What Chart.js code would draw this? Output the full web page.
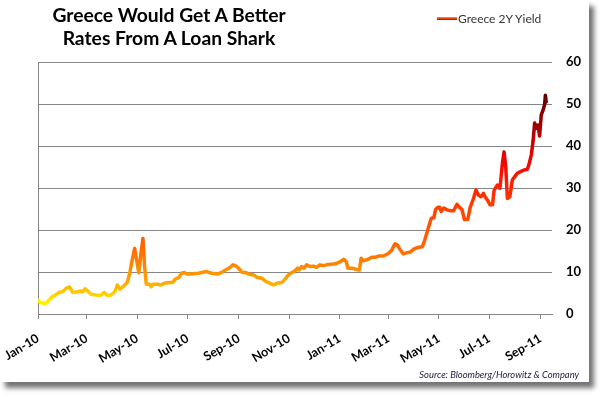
<!DOCTYPE html>
<html>
<head>
<meta charset="utf-8">
<script src="https://cdn.jsdelivr.net/npm/chart.js@4"></script>
<style>
  html, body { margin:0; padding:0; background:#fff; width:602px; height:397px; overflow:hidden; }
  #frame { position:absolute; left:0; top:0; width:589px; height:382px; background:#fff;
           box-shadow: 5px 6px 5px rgba(0,0,0,0.55); }
  #c { position:absolute; left:0; top:0; }
  #title { position:absolute; left:0; top:2.5px; width:338px; text-align:center;
           font-family:Lato, sans-serif; font-weight:bold; font-size:19.3px; line-height:23.5px; color:#000; }
  #legLine { position:absolute; left:437px; top:16.5px; width:20px; height:3px;
             background:linear-gradient(to bottom, #ffb000, #e03000 60%, #a01000); }
  #legText { position:absolute; left:458px; top:11.7px; font-family:Lato, sans-serif; font-size:12px;
             line-height:14px; color:#333; white-space:nowrap; }
  #source { position:absolute; right:23px; top:369px; font-family:Lato, sans-serif; font-style:italic;
            font-size:9.4px; line-height:11px; color:#1a1a40; white-space:nowrap; }
</style>
</head>
<body>
<div id="frame"></div>
<canvas id="c" width="602" height="397" style="width:602px;height:397px"></canvas>
<div id="title">Greece Would Get A Better<br>Rates From A Loan Shark</div>
<div id="legLine"></div>
<div id="legText">Greece 2Y Yield</div>
<div id="source">Source: Bloomberg/Horowitz &amp; Company</div>
<script>
const seriesName = 'Greece 2Y Yield';
const tickDates = ['2010-01-01','2010-03-01','2010-05-01','2010-07-01','2010-09-01','2010-11-01',
                   '2011-01-01','2011-03-01','2011-05-01','2011-07-01','2011-09-01'];
const tickLabels = ['Jan-10','Mar-10','May-10','Jul-10','Sep-10','Nov-10',
                    'Jan-11','Mar-11','May-11','Jul-11','Sep-11'];
const axisStart = '2010-01-01';
const axisEnd = '2011-09-15';
const dates = [
 '2010-01-01','2010-01-04','2010-01-10','2010-01-14','2010-01-18','2010-01-22','2010-01-26','2010-01-31',
 '2010-02-04','2010-02-08','2010-02-10','2010-02-12','2010-02-18','2010-02-22','2010-02-24','2010-02-27',
 '2010-03-03','2010-03-06','2010-03-12','2010-03-18','2010-03-22','2010-03-26','2010-03-30',
 '2010-04-04','2010-04-07','2010-04-10','2010-04-14','2010-04-19','2010-04-22','2010-04-25','2010-04-28',
 '2010-05-01','2010-05-03','2010-05-05','2010-05-08','2010-05-10','2010-05-12','2010-05-16','2010-05-18',
 '2010-05-20','2010-05-26','2010-05-30',
 '2010-06-03','2010-06-09','2010-06-13','2010-06-16','2010-06-20','2010-06-24','2010-06-27','2010-06-30',
 '2010-07-06','2010-07-14','2010-07-24','2010-07-30',
 '2010-08-07','2010-08-11','2010-08-17','2010-08-21','2010-08-25','2010-08-29',
 '2010-09-02','2010-09-05','2010-09-09','2010-09-13','2010-09-19','2010-09-23','2010-09-29',
 '2010-10-04','2010-10-09','2010-10-13','2010-10-17','2010-10-23','2010-10-27','2010-10-31',
 '2010-11-04','2010-11-08','2010-11-11','2010-11-13','2010-11-16','2010-11-19','2010-11-22','2010-11-26','2010-11-30',
 '2010-12-04','2010-12-08','2010-12-13','2010-12-18','2010-12-25','2010-12-29',
 '2011-01-02','2011-01-06','2011-01-09','2011-01-11','2011-01-16','2011-01-22','2011-01-25','2011-01-27','2011-01-30',
 '2011-02-03','2011-02-09','2011-02-13','2011-02-17','2011-02-23',
 '2011-03-01','2011-03-05','2011-03-09','2011-03-12','2011-03-15','2011-03-19','2011-03-24','2011-03-28',
 '2011-04-01','2011-04-07','2011-04-11','2011-04-14','2011-04-17','2011-04-20','2011-04-22','2011-04-25','2011-04-27','2011-04-30',
 '2011-05-02','2011-05-04','2011-05-07','2011-05-11','2011-05-15','2011-05-19','2011-05-23','2011-05-26','2011-05-29',
 '2011-06-01','2011-06-05','2011-06-08','2011-06-12','2011-06-15','2011-06-18','2011-06-21','2011-06-24','2011-06-26','2011-06-29',
 '2011-07-02','2011-07-05','2011-07-07','2011-07-11','2011-07-14','2011-07-17','2011-07-19','2011-07-21','2011-07-23','2011-07-26','2011-07-29',
 '2011-08-01','2011-08-04','2011-08-08','2011-08-12','2011-08-16','2011-08-18','2011-08-21','2011-08-23','2011-08-25','2011-08-27','2011-08-29','2011-08-31',
 '2011-09-02','2011-09-04','2011-09-06','2011-09-07','2011-09-08'
];
const yields = [
 3.3,2.7,2.5,3.2,4.1,4.5,5.1,5.3,
 6.1,6.4,5.9,5.1,5.3,5.5,5.2,6.0,
 5.3,4.7,4.5,4.4,5.1,4.4,4.5,
 5.3,6.9,5.9,6.5,7.5,9.7,12.9,15.6,
 12.1,9.8,13.6,18.0,11.3,7.1,7.1,6.5,
 7.1,7.1,6.9,
 7.3,7.5,7.5,8.3,8.6,9.7,9.9,9.5,
 9.5,9.7,10.1,9.7,
 9.5,9.9,10.6,11.0,11.7,11.4,
 10.6,9.9,9.9,9.5,9.3,8.7,8.5,
 7.7,7.3,6.9,7.3,7.5,8.3,9.3,
 9.8,10.3,10.9,10.5,11.3,10.9,11.7,11.3,11.4,
 11.1,11.7,11.5,11.8,11.9,12.1,
 12.5,13.0,12.5,10.9,10.9,10.6,10.5,13.3,12.7,
 12.9,13.5,13.5,13.8,13.8,
 14.4,15.2,16.7,16.4,15.4,14.3,14.6,14.8,
 15.5,15.9,16.0,17.6,19.6,21.6,22.8,22.9,24.8,25.4,
 25.4,24.4,25.2,24.8,24.6,24.6,26.1,25.4,24.9,
 22.5,22.5,25.4,27.5,29.5,28.3,27.9,28.7,27.9,27.1,
 26.0,26.0,29.5,30.7,29.9,35.9,38.6,35.1,27.5,27.9,31.9,
 32.7,33.5,33.9,34.3,34.4,35.5,37.9,41.0,45.5,44.2,45.0,42.4,
 47.4,48.4,49.8,52.1,50.5
];
const yMin = 0, yMax = 60, yStep = 10;

const startUTC = (() => { const [y,m,d] = axisStart.split('-').map(Number); return Date.UTC(y,m-1,d); })();
const toDay = s => { const [y,m,d] = s.split('-').map(Number); return (Date.UTC(y,m-1,d) - startUTC) / 86400000; };
const points = dates.map((d, i) => ({ x: toDay(d), y: yields[i] }));

const colorStops = [
  [0, '#ffff00'], [3, '#ffec00'], [5, '#ffcc00'], [8, '#ffa400'], [11, '#ff8a00'],
  [16, '#ff6800'], [25, '#ff4200'], [32, '#ff1800'], [38, '#e80000'], [45, '#a00000'],
  [52, '#620000'], [60, '#4a0000']
];
function lineGradient(context) {
  const chart = context.chart;
  const area = chart.chartArea;
  if (!area) return '#ff8800';
  const ys = chart.scales.y;
  const g = chart.ctx.createLinearGradient(0, ys.getPixelForValue(yMin), 0, ys.getPixelForValue(yMax));
  colorStops.forEach(([v, c]) => g.addColorStop((v - yMin) / (yMax - yMin), c));
  return g;
}

const gridColor = '#868686';

new Chart(document.getElementById('c'), {
  type: 'line',
  data: {
    datasets: [{
      label: seriesName,
      data: points,
      borderColor: lineGradient,
      borderWidth: 3.5,
      pointRadius: 0,
      tension: 0,
      fill: false,
      borderJoinStyle: 'round',
      borderCapStyle: 'round'
    }]
  },
  options: {
    responsive: false,
    animation: false,
    layout: { padding: { left: 38, top: 62, right: 0, bottom: 0 } },
    plugins: { legend: { display: false }, tooltip: { enabled: false }, title: { display: false } },
    scales: {
      x: {
        type: 'linear',
        min: 0,
        max: toDay(axisEnd),
        afterBuildTicks: s => { s.ticks = tickDates.map(d => ({ value: toDay(d) })); },
        afterFit: s => { s.height = 83; s.paddingLeft = 0; s.paddingRight = 0; },
        ticks: {
          autoSkip: false, minRotation: 31, maxRotation: 31, padding: 12,
          font: { family: 'Lato', weight: 'bold', size: 12.5 }, color: '#000',
          callback: (v, i) => tickLabels[i]
        },
        grid: {
          color: c => (c.index === 0 ? gridColor : 'rgba(0,0,0,0)'),
          tickColor: gridColor, tickLength: 5, lineWidth: 1, drawOnChartArea: true
        },
        border: { display: true, color: gridColor }
      },
      y: {
        position: 'right',
        min: yMin, max: yMax,
        afterFit: s => { s.width = 50; s.paddingTop = 0; s.paddingBottom = 0; },
        ticks: { stepSize: yStep, padding: 14, font: { family: 'Lato', weight: 'bold', size: 13 }, color: '#000' },
        grid: { color: gridColor, drawTicks: false, lineWidth: 1 },
        border: { display: false }
      }
    }
  }
});
</script>
</body>
</html>
